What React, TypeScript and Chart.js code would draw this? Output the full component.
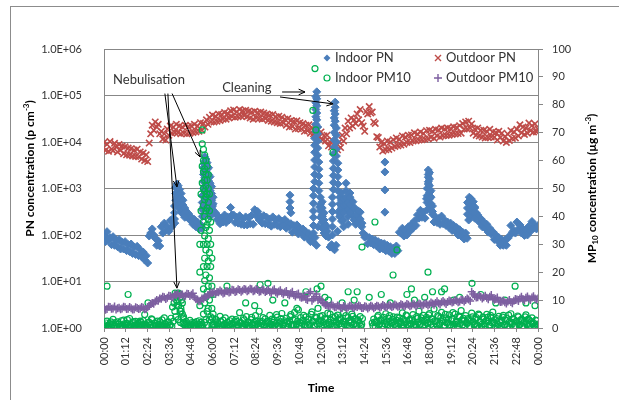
import React, { useEffect, useRef } from 'react';
import { Chart, registerables } from 'chart.js';
Chart.register(...registerables);

const FONT = 'Lato, "Open Sans", "DejaVu Sans", sans-serif';
const C_BLUE = '#4A7EBB';
const C_RED = '#BE4B48';
const C_GREEN = '#00B050';
const C_PURPLE = '#7D5FA0';
const AXIS = '#878787';
const TEXT = '#333333';

// ---- ticks ----
const timeTickMinutes = [0, 72, 144, 216, 288, 360, 432, 504, 576, 648, 720, 792, 864, 936, 1008, 1080, 1152, 1224, 1296, 1368, 1440];
const timeLabels = ['00:00', '01:12', '02:24', '03:36', '04:48', '06:00', '07:12', '08:24', '09:36', '10:48', '12:00', '13:12', '14:24', '15:36', '16:48', '18:00', '19:12', '20:24', '21:36', '22:48', '00:00'];
const pnTickValues = [1, 10, 100, 1000, 10000, 100000, 1000000];
const pnTickLabels = ['1.0E+00', '1.0E+01', '1.0E+02', '1.0E+03', '1.0E+04', '1.0E+05', '1.0E+06'];

// ---- Outdoor PN (p cm-3), one value every 5 minutes from 00:00 (12 per hour) ----
const outdoorPN = [
  9800, 6600, 8900, 6300, 10200, 7000, 6500, 9400, 7900, 6100, 8800, 6700,
  8200, 5600, 7900, 5300, 7400, 5200, 7200, 5000, 6700, 4900, 7000, 4800,
  6100, 4300, 5800, 4000, 5300, 3800, 9500, 15000, 23000, 18000, 27000, 21000,
  24000, 15000, 17000, 11500, 15000, 11000, 19000, 14000, 22000, 15500, 21000, 16000,
  24000, 16000, 22000, 15000, 21000, 15500, 23000, 15000, 21500, 15500, 22000, 16000,
  24000, 16500, 22000, 17000, 26000, 18000, 25000, 21000, 30000, 24000, 34000, 27000,
  38000, 27000, 36000, 28000, 40000, 29000, 39000, 31000, 43000, 31000, 41000, 33000,
  47000, 35000, 49000, 34000, 45000, 35000, 50000, 36000, 47000, 37000, 48000, 35000,
  46000, 33000, 44000, 31000, 46000, 33000, 43000, 32000, 44000, 31000, 42000, 32000,
  40000, 29000, 38000, 28000, 39000, 27000, 35000, 26000, 36000, 25000, 34000, 25500,
  31000, 23000, 32000, 21000, 29000, 21500, 28000, 19000, 28500, 19500, 26000, 19000,
  25000, 17000, 23000, 17500, 23500, 15500, 20000, 15000, 21000, 13500, 18500, 13000,
  16500, 11000, 13500, 10500, 14000, 8300, 10000, 7800, 10500, 6600, 8200, 6800,
  10000, 7600, 14000, 10500, 20000, 15000, 28000, 20000, 33000, 22000, 30000, 25000,
  40000, 30000, 50000, 26000, 22000, 17000, 45000, 40000, 58000, 42000, 44000, 27000,
  25000, 13000, 12500, 7800, 9700, 6400, 9200, 6800, 10500, 6900, 10000, 7400,
  11200, 8000, 12200, 8300, 11500, 8600, 13500, 9000, 12800, 9800, 14000, 9700,
  14200, 10500, 15800, 10600, 14800, 11000, 16500, 11200, 15300, 11500, 17500, 11800,
  17800, 12600, 17000, 12000, 18800, 13500, 18200, 12800, 20000, 13600, 19000, 13800,
  20000, 14000, 19500, 14500, 21200, 14800, 20500, 15200, 22500, 15500, 25000, 19000,
  27000, 19000, 28000, 20000, 24500, 15500, 19000, 14000, 20000, 13500, 17800, 12800,
  17800, 12200, 17000, 12500, 18800, 12800, 16500, 12600, 16000, 11000, 17000, 12500,
  15500, 10500, 13000, 9800, 14700, 10800, 17500, 11900, 16500, 12200, 18800, 13500,
  23500, 15800, 21000, 14500, 20000, 15500, 25500, 17500, 22500, 16500, 24500, 16500,
  19000,
];

// ---- Outdoor PM10 (ug m-3), every 5 minutes ----
const outdoorPM10 = [
  7.2, 6.5, 6.8, 7.6, 7.5, 6.9, 7.0, 7.7, 6.6, 7.1, 7.3, 6.7,
  7.0, 7.6, 7.4, 6.8, 6.9, 7.5, 7.1, 6.6, 6.7, 7.4, 7.2, 6.8,
  7.0, 7.5, 7.3, 6.7, 6.8, 7.4, 8.0, 8.6, 9.0, 8.7, 9.5, 10.0,
  9.8, 10.6, 10.5, 11.2, 11.0, 10.4, 10.8, 11.6, 11.5, 10.9, 11.2, 12.0,
  11.8, 12.4, 11.4, 12.0, 12.0, 11.3, 11.6, 12.3, 12.2, 11.5, 11.9, 12.5,
  11.0, 10.4, 10.2, 9.6, 9.8, 10.6, 10.5, 11.2, 11.0, 11.8, 12.0, 12.6,
  12.5, 13.0, 12.2, 12.9, 12.8, 13.4, 13.0, 12.4, 12.6, 13.3, 13.2, 12.7,
  13.0, 13.7, 13.5, 12.9, 13.2, 13.9, 13.6, 13.0, 13.4, 14.0, 13.8, 13.2,
  13.5, 14.1, 13.9, 13.2, 13.4, 14.0, 13.6, 13.0, 13.2, 13.8, 13.5, 12.9,
  13.3, 13.8, 13.0, 12.5, 13.4, 13.9, 12.8, 12.3, 13.1, 13.5, 12.6, 12.1,
  12.8, 13.3, 12.2, 11.7, 12.5, 13.0, 11.8, 11.3, 12.0, 12.4, 11.2, 10.8,
  11.0, 11.6, 10.4, 10.0, 12.5, 13.0, 9.8, 10.5, 11.2, 12.2, 10.0, 10.6,
  10.0, 9.2, 8.8, 8.2, 8.2, 7.7, 7.8, 8.4, 8.0, 7.4, 7.5, 8.1,
  7.8, 7.2, 7.2, 7.9, 7.6, 7.0, 7.4, 8.0, 7.9, 7.3, 7.3, 7.8,
  7.5, 8.1, 7.8, 7.2, 7.2, 7.8, 7.6, 7.0, 7.4, 8.0, 7.7, 7.1,
  7.5, 8.0, 7.8, 7.3, 7.6, 8.2, 7.9, 7.4, 7.7, 8.2, 8.0, 7.5,
  7.8, 8.4, 8.1, 7.6, 7.9, 8.5, 8.2, 7.7, 8.0, 8.6, 8.3, 7.8,
  8.1, 8.7, 8.4, 7.9, 8.2, 8.8, 8.5, 8.0, 8.3, 8.9, 8.6, 8.1,
  8.5, 9.1, 8.8, 8.3, 9.0, 9.6, 8.9, 8.4, 9.2, 9.7, 9.1, 8.6,
  9.3, 9.9, 9.6, 9.1, 9.4, 10.0, 9.8, 9.2, 9.5, 10.1, 10.0, 9.5,
  10.0, 10.6, 10.2, 9.7, 13.0, 12.2, 11.5, 10.9, 11.0, 11.7, 11.2, 10.6,
  11.0, 11.6, 10.8, 10.3, 11.2, 11.8, 10.6, 10.1, 10.4, 10.9, 9.8, 9.3,
  9.4, 9.9, 9.2, 8.8, 9.5, 10.0, 9.3, 8.9, 9.8, 10.4, 10.2, 9.7,
  10.6, 11.2, 10.4, 9.9, 10.8, 11.3, 10.5, 10.0, 10.9, 11.4, 10.6, 10.1,
  10.6,
];

// ---- Indoor PN (p cm-3), background every 5 minutes ----
const indoorPN = [
  100, 72, 118, 80, 88, 62, 92, 60, 78, 56, 80, 50,
  70, 50, 72, 46, 62, 44, 64, 40, 55, 38, 57, 36,
  48, 34, 43, 29, 36, 25, 95, 110, 135, 100, 85, 60,
  75, 58, 150, 110, 180, 125, 150, 120, 205, 150, 230, 180,
  1100, 800, 650, 520, 440, 340, 340, 250, 290, 210, 240, 170,
  215, 150, 190, 135, 170, 140, 400, 900, 1500, 1200, 900, 600,
  420, 300, 300, 215, 250, 175, 230, 190, 270, 185, 245, 210,
  390, 270, 270, 185, 240, 180, 260, 170, 220, 165, 245, 165,
  235, 175, 265, 170, 350, 260, 320, 210, 250, 180, 260, 175,
  240, 170, 220, 155, 245, 170, 215, 160, 225, 150, 200, 160,
  215, 140, 185, 150, 175, 115, 160, 125, 165, 105, 140, 110,
  135, 90, 118, 88, 108, 72, 95, 70, 88, 60, 150, 400,
  400, 250, 180, 140, 120, 90, 55, 62, 52, 48, 60, 120,
  300, 450, 600, 380, 380, 520, 650, 420, 320, 260, 210, 170,
  260, 190, 310, 150, 110, 90, 95, 65, 88, 68, 82, 62,
  78, 58, 72, 50, 67, 51, 65, 46, 60, 45, 56, 40,
  52, 40, 58, 46, 115, 110, 140, 95, 125, 100, 150, 120,
  170, 140, 200, 160, 270, 230, 340, 240, 310, 230, 600, 1000,
  700, 400, 280, 190, 245, 185, 225, 170, 255, 175, 210, 160,
  190, 145, 180, 125, 160, 120, 145, 100, 130, 95, 115, 82,
  110, 85, 210, 300, 450, 520, 380, 300, 270, 190, 225, 150,
  190, 140, 170, 115, 140, 105, 118, 80, 100, 75, 88, 60,
  80, 60, 78, 60, 85, 95, 160, 115, 125, 110, 190, 135,
  165, 110, 135, 98, 128, 100, 155, 120, 195, 140, 160, 135,
  160,
];

// ---- Indoor PN peaks: [minute, value] ----
const nebulisationPeaksPN: [number, number][] = [
  [234, 220], [234, 300], [234, 420], [238, 560], [238, 780], [238, 1050],
  [242, 1250], [242, 1000], [242, 820], [242, 650],
  [246, 1150], [246, 900], [246, 720], [246, 560], [246, 440],
  [251, 950], [251, 760], [251, 600], [251, 470], [251, 370],
  [256, 780], [256, 620], [256, 490], [256, 390], [256, 310],
  [262, 560], [262, 440], [262, 350], [262, 280], [268, 380], [268, 300], [268, 240],
  [326, 250], [326, 350], [326, 500], [326, 700], [330, 1000], [330, 1400], [330, 2000], [330, 2800],
  [334, 3800], [334, 4800], [334, 3300], [334, 2400], [334, 1700],
  [338, 4300], [338, 3100], [338, 2200], [338, 1600], [338, 1150], [338, 820], [338, 600],
  [342, 3600], [342, 2600], [342, 1900], [342, 1350], [342, 950], [342, 680], [342, 480], [342, 340],
  [347, 2800], [347, 2000], [347, 1450], [347, 1050], [347, 750], [347, 530], [347, 380], [347, 270],
  [352, 1800], [352, 1300], [352, 900], [352, 650], [352, 470], [352, 340], [352, 250],
  [357, 1100], [357, 780], [357, 560], [357, 400], [357, 290], [362, 650], [362, 470], [362, 340],
];
const cleaningPeaksPN: [number, number][] = [
  [695, 110], [695, 160], [695, 240], [695, 330], [695, 480], [695, 700], [695, 1000],
  [699, 1400], [699, 2000], [699, 2900], [699, 4100], [699, 6000], [699, 8500], [699, 12000],
  [703, 17000], [703, 24000], [703, 35000], [703, 50000], [703, 70000], [703, 95000],
  [706, 120000], [706, 85000], [706, 60000], [706, 42000], [706, 30000],
  [709, 21000], [709, 15000], [709, 10500], [709, 7400], [709, 5200],
  [713, 3700], [713, 2600], [713, 1850], [713, 1300], [713, 900],
  [718, 650], [718, 460], [718, 330], [718, 240],
  [724, 520], [724, 380], [724, 270], [724, 190], [724, 140],
  [730, 300], [730, 210], [730, 150], [730, 110], [737, 160], [737, 120], [737, 95],
  [758, 100], [758, 150], [758, 220], [758, 320], [758, 460], [758, 650],
  [761, 950], [761, 1350], [761, 1900], [761, 2700], [761, 3900], [761, 5500],
  [764, 7800], [764, 11000], [764, 16000], [764, 23000], [764, 33000], [764, 47000],
  [767, 72000], [767, 56000], [767, 40000], [767, 28000],
  [771, 20000], [771, 14000], [771, 10000], [771, 7000], [771, 5000],
  [776, 3500], [776, 2500], [776, 1800], [776, 1250], [776, 900],
  [782, 650], [782, 470], [782, 340], [782, 250],
  [788, 800], [788, 560], [788, 400], [788, 290], [788, 200],
  [795, 600], [795, 430], [795, 300], [795, 210], [795, 150],
  [803, 1300], [803, 900], [803, 640], [803, 450],
  [810, 500], [810, 350], [810, 250], [810, 170],
  [816, 800], [816, 650], [816, 450], [816, 300],
  [826, 520], [832, 380], [838, 280], [844, 330], [850, 220], [856, 180],
];
const otherPeaksPN: [number, number][] = [
  [617, 720], [617, 520], [617, 380], [620, 300],
  [932, 3700], [932, 2270], [932, 930], [932, 310],
  [1072, 350], [1072, 500], [1072, 700], [1072, 1000],
  [1076, 1400], [1076, 2000], [1076, 2500], [1076, 1750], [1076, 1250],
  [1080, 2200], [1080, 1600], [1080, 1150], [1080, 820], [1080, 600], [1080, 430],
  [1085, 900], [1085, 650], [1085, 470], [1085, 340], [1090, 420], [1090, 320],
  [1206, 280], [1206, 380], [1206, 500], [1212, 650], [1212, 480], [1212, 360],
  [1218, 600], [1218, 450], [1218, 340], [1218, 260], [1224, 520], [1224, 400], [1224, 300],
  [1230, 400], [1230, 300], [1230, 230],
];

// ---- Indoor PM10 (ug m-3), background every 2.5 minutes (24 per hour, null = no data) ----
const indoorPM10 = [
  1.2, 0.5, 0.4, 1.8, 2.5, 0.9, 0.8, 0.3, 1.6, 2.2, 0.3, 1.1, 3.1, 0.6, 1.0, 1.9, 0.6, 0.2, 2.2, 1.4, 1.4, 0.7, 0.5, 2.6,
  0.9, 0.4, 2.8, 1.5, 0.4, 0.9, 1.7, 3.0, 1.1, 0.5, 3.4, 1.2, 0.7, 0.3, 1.9, 2.3, 0.3, 1.0, 2.4, 0.6, 1.3, 1.8, 0.8, 0.4,
  1.5, 2.1, 0.5, 1.0, 2.6, 0.3, 4.8, 1.4, 1.0, 0.6, 0.4, 2.0, 2.0, 0.8, 1.2, 3.3, 3.0, 0.5, 0.6, 1.7, 1.8, 0.9, 0.9, 2.5,
  0.4, 1.3, 2.3, 0.7, 1.1, 2.9, 0.7, 0.4, 3.6, 1.2, 1.5, 0.6, 0.5, 2.2, 2.1, 1.0, 1.0, 3.5, 0.6, 7.5, 2.4, 9.0, 6.0, 11.5,
  11.0, 8.0, 9.5, 12.5, 12.0, 6.0, 7.0, 10.0, 5.0, 3.5, 2.0, 1.2, 0.8, 2.4, 1.6, 0.5, 0.4, 1.1, 2.7, 0.7, 1.2, 1.9, 0.6, 0.3,
  1.9, 1.0, 0.5, 2.3, 1.4, 0.6, 2.6, 1.3, 0.7, 2.0, 1.1, 0.4, null, null, null, null, null, null, null, null, null, null, null, null,
  3.5, 1.4, 1.0, 0.4, 2.2, 3.0, 0.6, 1.8, 1.5, 0.8, 4.2, 2.4, 0.9, 0.5, 2.8, 1.2, 1.3, 3.6, 0.5, 1.0, 2.0, 0.7, 1.1, 2.6,
  0.7, 1.5, 3.2, 0.9, 1.6, 2.2, 0.4, 3.0, 2.4, 1.1, 1.0, 0.5, 5.5, 2.0, 1.8, 0.8, 0.6, 3.4, 2.9, 1.4, 1.2, 4.1, 0.8, 1.9,
  2.1, 0.9, 0.5, 3.0, 3.8, 1.1, 1.4, 2.0, 0.9, 4.4, 2.6, 1.3, 1.7, 0.7, 6.0, 2.5, 0.6, 1.6, 2.3, 3.7, 1.1, 0.5, 3.3, 1.8,
  0.8, 2.4, 1.9, 0.6, 4.5, 1.5, 1.2, 3.2, 0.5, 2.0, 2.7, 1.0, 1.6, 4.8, 3.9, 0.9, 0.7, 1.7, 2.2, 3.4, 5.2, 1.3, 1.0, 2.6,
  1.8, 0.7, 3.5, 2.2, 0.6, 1.4, 2.5, 4.1, 4.8, 0.9, 1.3, 2.8, 0.9, 5.6, 3.0, 1.2, 1.5, 2.4, 6.5, 0.8, 2.0, 3.7, 0.7, 1.6,
  2.8, 4.5, 1.2, 0.6, 4.0, 2.1, 0.8, 3.0, 3.3, 1.1, 1.7, 4.9, 5.8, 2.3, 2.4, 0.7, 1.0, 3.9, 3.6, 1.4, 7.0, 2.6, 1.5, 4.2,
  2.6, 0.9, 4.4, 2.0, 1.1, 3.5, 3.1, 1.4, 0.7, 5.3, 2.0, 1.2, 5.0, 2.8, 1.6, 0.6, 3.8, 2.4, 0.9, 4.1, 2.3, 1.0, 4.6, 3.0,
  1.4, 3.6, 3.0, 0.8, 0.8, 2.2, 5.5, 1.3, 2.1, 4.4, 1.2, 0.7, 3.7, 2.5, 0.6, 1.9, 2.8, 5.0, 4.2, 1.1, 1.5, 3.2, 3.3, 0.9,
  0.9, 2.9, 2.5, 1.6, 4.1, 0.7, 1.3, 3.4, null, null, null, null, null, null, null, null, null, null, null, null, 1.8, 0.8, 3.2, 2.1,
  0.7, 1.9, 2.2, 4.0, 4.5, 1.1, 1.5, 2.7, 3.0, 0.6, 0.9, 3.8, 2.6, 1.4, 5.1, 2.2, 1.2, 0.8, 3.5, 4.4, 0.6, 1.7, 2.0, 3.1,
  4.0, 2.3, 1.3, 0.6, 2.8, 3.9, 0.8, 1.5, 3.6, 2.4, 1.9, 0.9, 5.4, 3.2, 1.0, 1.8, 2.4, 4.6, 4.3, 1.2, 0.7, 2.7, 3.1, 1.4,
  1.6, 3.3, 4.8, 0.9, 2.2, 1.3, 0.9, 4.1, 3.4, 2.0, 6.0, 1.1, 1.4, 3.6, 2.7, 0.7, 4.5, 2.5, 1.1, 3.0, 3.8, 1.6, 2.0, 4.7,
  5.2, 2.1, 1.3, 3.4, 3.1, 0.8, 6.8, 2.6, 2.4, 1.5, 0.9, 4.4, 4.1, 1.2, 1.7, 3.7, 5.6, 2.3, 2.9, 0.7, 1.0, 4.9, 3.6, 1.8,
  2.1, 3.2, 4.7, 0.9, 1.2, 2.6, 3.3, 5.5, 0.8, 1.4, 5.0, 2.0, 2.5, 0.7, 1.5, 4.2, 3.9, 1.6, 6.2, 2.8, 1.1, 3.5, 2.8, 0.6,
  4.4, 1.9, 1.6, 3.4, 3.0, 0.8, 0.7, 2.5, 5.3, 4.0, 2.2, 1.2, 1.3, 3.1, 3.7, 0.9, 0.9, 5.0, 4.6, 2.3, 2.0, 0.6, 1.4, 3.9,
  3.2, 1.5, 0.8, 2.6, 4.9, 3.8, 2.4, 0.7, 1.1, 4.5, 3.6, 1.9, 5.7, 2.2, 1.7, 0.9, 2.9, 3.4, 0.6, 1.3, 4.2, 2.5, 1.9, 0.8,
  2.7, 3.9, 4.5, 1.2, 1.0, 2.8, 3.4, 0.6, 0.7, 4.6, 2.2, 1.6, 5.1, 2.0, 1.5, 3.3, 3.0, 0.8, 0.9, 2.4, 2.5, 4.3, 4.0, 1.1,
  1.3, 2.7, 3.1, 0.7, 0.6, 1.8, 2.4, 4.0, 4.7, 1.5, 1.2, 3.2, 2.9, 0.9, 0.8, 2.3, 3.6, 1.4, 1.8, 0.5, 0.5, 2.8, 2.6, 1.0,
  1.4,
];

// ---- Indoor PM10 single readings: [minute, value] ----
const nebulisationPM10: [number, number][] = [
  [236, 12.5], [240, 10], [244, 12], [248, 8], [252, 11], [256, 6], [260, 9], [264, 4], [238, 4], [246, 3], [254, 2], [262, 1.5],
  [318, 8], [318, 20], [318, 30], [322, 35], [322, 42], [322, 48], [326, 52], [326, 58], [326, 66], [326, 71],
  [330, 64], [330, 60], [330, 56], [330, 50], [330, 44], [330, 38], [330, 30], [330, 22], [330, 14], [330, 5],
  [334, 62], [334, 57], [334, 53], [334, 49], [334, 46], [334, 40], [334, 33], [334, 25], [334, 17], [334, 9], [334, 2],
  [338, 60], [338, 55], [338, 51], [338, 47], [338, 42], [338, 36], [338, 28], [338, 19], [338, 11], [338, 3],
  [342, 58], [342, 53], [342, 48], [342, 43], [342, 37], [342, 30], [342, 22], [342, 13], [342, 6], [342, 1],
  [346, 55], [346, 50], [346, 45], [346, 39], [346, 32], [346, 24], [346, 15], [346, 7],
  [350, 48], [350, 42], [350, 35], [350, 27], [350, 18], [350, 10], [350, 3],
  [354, 38], [354, 30], [354, 22], [354, 12], [354, 4], [358, 25], [358, 15], [358, 7], [358, 1], [362, 12], [362, 5], [362, 1],
];
const otherPM10: [number, number][] = [
  [10, 15], [80, 12], [146, 9], [120, 2.5],
  [693, 78], [700, 93], [703, 71], [760, 63], [856, 29], [899, 38], [959, 19], [972, 28], [1075, 20], [1221, 16], [1364, 15],
  [408, 15], [518, 15.5], [544, 16], [670, 13], [707, 14], [733, 11], [810, 13], [720, 15], [745, 10], [790, 9],
  [830, 10], [840, 13], [1005, 12], [1020, 14], [1030, 10], [1064, 11], [1090, 13], [1120, 13], [1130, 14], [1250, 12],
  [1430, 8], [600, 9], [640, 7], [470, 9], [500, 8], [560, 10], [880, 11], [920, 12], [950, 9], [1160, 10], [1180, 11],
  [1300, 9], [1330, 10], [1400, 9],
];

// ---- annotations (data coordinates: minute, PN value) ----
const nebulisationLabel = { t: 30, v: 2.15e5, text: 'Nebulisation' };
const cleaningLabel = { t: 392, v: 1.45e5, text: 'Cleaning' };
const nebulisationArrows: [number, number, number, number][] = [
  [202, 1.1e5, 242, 1080],
  [212, 1.1e5, 242, 7.2],
  [226, 1.1e5, 319, 4760],
];
const cleaningArrows: [number, number, number, number][] = [
  [591, 1.19e5, 667, 1.19e5],
  [584, 9.3e4, 760, 6.6e4],
];

const seq = (vals: (number | null)[], step: number) =>
  vals.flatMap((v, i) => (v == null ? [] : [{ x: i * step, y: v }]));
const pts = (arr: [number, number][]) => arr.map(([x, y]) => ({ x, y }));

function marker(ctx: CanvasRenderingContext2D, kind: string, x: number, y: number, color: string) {
  ctx.save();
  ctx.strokeStyle = color;
  ctx.fillStyle = color;
  ctx.lineWidth = 1.4;
  const r = 3.5;
  ctx.beginPath();
  if (kind === 'diamond') {
    ctx.moveTo(x, y - r); ctx.lineTo(x + r, y); ctx.lineTo(x, y + r); ctx.lineTo(x - r, y); ctx.closePath(); ctx.fill();
  } else if (kind === 'x') {
    ctx.moveTo(x - 3, y - 3); ctx.lineTo(x + 3, y + 3); ctx.moveTo(x + 3, y - 3); ctx.lineTo(x - 3, y + 3); ctx.stroke();
  } else if (kind === 'circle') {
    ctx.lineWidth = 1.2;
    ctx.arc(x, y, 3, 0, Math.PI * 2); ctx.stroke();
  } else {
    ctx.moveTo(x - 4, y); ctx.lineTo(x + 4, y); ctx.moveTo(x, y - 4); ctx.lineTo(x, y + 4); ctx.stroke();
  }
  ctx.restore();
}

function arrow(ctx: CanvasRenderingContext2D, x1: number, y1: number, x2: number, y2: number) {
  const a = Math.atan2(y2 - y1, x2 - x1);
  const L = 7, w = 0.42;
  ctx.beginPath();
  ctx.moveTo(x1, y1);
  ctx.lineTo(x2, y2);
  ctx.moveTo(x2 - L * Math.cos(a - w), y2 - L * Math.sin(a - w));
  ctx.lineTo(x2, y2);
  ctx.lineTo(x2 - L * Math.cos(a + w), y2 - L * Math.sin(a + w));
  ctx.stroke();
}

type Part = { t: string; k?: 'sup' | 'sub' };
function rich(ctx: CanvasRenderingContext2D, parts: Part[], cx: number, cy: number, rot: number) {
  const big = 'bold 12px ' + FONT;
  const small = 'bold 8px ' + FONT;
  const widths = parts.map((p) => { ctx.font = p.k ? small : big; return ctx.measureText(p.t).width; });
  const total = widths.reduce((a, b) => a + b, 0);
  ctx.save();
  ctx.translate(cx, cy);
  ctx.rotate(rot);
  ctx.fillStyle = '#000';
  ctx.textBaseline = 'middle';
  ctx.textAlign = 'left';
  let x = -total / 2;
  parts.forEach((p, i) => {
    ctx.font = p.k ? small : big;
    const dy = p.k === 'sup' ? -4 : p.k === 'sub' ? 3 : 0;
    ctx.fillText(p.t, x, dy);
    x += widths[i];
  });
  ctx.restore();
}

const decor = {
  id: 'decor',
  afterDraw(chart: any) {
    const { ctx, chartArea: ca, scales } = chart;
    const xs = scales.x, ys = scales.y;
    ctx.save();
    const legend = [
      { kind: 'diamond', color: C_BLUE, text: 'Indoor PN', col: 0, row: 0 },
      { kind: 'x', color: C_RED, text: 'Outdoor PN', col: 1, row: 0 },
      { kind: 'circle', color: C_GREEN, text: 'Indoor PM10', col: 0, row: 1 },
      { kind: 'plus', color: C_PURPLE, text: 'Outdoor PM10', col: 1, row: 1 },
    ];
    ctx.font = '13px ' + FONT;
    ctx.textBaseline = 'middle';
    ctx.textAlign = 'left';
    legend.forEach((l) => {
      const mx = ca.left + 223 + l.col * 111;
      const my = ca.top + 9 + l.row * 20;
      marker(ctx, l.kind, mx, my, l.color);
      ctx.fillStyle = TEXT;
      ctx.fillText(l.text, mx + 8, my);
    });
    ctx.fillStyle = TEXT;
    ctx.font = '13px ' + FONT;
    ctx.fillText(nebulisationLabel.text, xs.getPixelForValue(nebulisationLabel.t), ys.getPixelForValue(nebulisationLabel.v));
    ctx.fillText(cleaningLabel.text, xs.getPixelForValue(cleaningLabel.t), ys.getPixelForValue(cleaningLabel.v));
    ctx.strokeStyle = '#000';
    ctx.lineWidth = 1;
    [...nebulisationArrows, ...cleaningArrows].forEach(([t1, v1, t2, v2]) => {
      arrow(ctx, xs.getPixelForValue(t1), ys.getPixelForValue(v1), xs.getPixelForValue(t2), ys.getPixelForValue(v2));
    });
    rich(ctx, [{ t: 'PN concentration (p cm' }, { t: '-3', k: 'sup' }, { t: ')' }], 30, (ca.top + ca.bottom) / 2 - 20, -Math.PI / 2);
    rich(ctx, [{ t: 'MP' }, { t: '10', k: 'sub' }, { t: ' concentration (\u00B5g m' }, { t: '-3', k: 'sup' }, { t: ')' }], 592, (ca.top + ca.bottom) / 2, -Math.PI / 2);
    rich(ctx, [{ t: 'Time' }], (ca.left + ca.right) / 2, 388, 0);
    ctx.restore();
  },
};

export default function App() {
  const ref = useRef<HTMLCanvasElement>(null);
  useEffect(() => {
    if (!ref.current) return;
    const common = { showLine: false, pointHoverRadius: 0 };
    const chart = new Chart(ref.current, {
      type: 'scatter',
      data: {
        datasets: [
          {
            ...common, label: 'Outdoor PM10', yAxisID: 'y1', data: seq(outdoorPM10, 5),
            pointStyle: 'cross', pointRadius: 4, pointBorderWidth: 1.5,
            borderColor: C_PURPLE, backgroundColor: C_PURPLE,
          },
          {
            ...common, label: 'Indoor PM10', yAxisID: 'y1',
            data: [...seq(indoorPM10, 2.5), ...pts(nebulisationPM10), ...pts(otherPM10)],
            pointStyle: 'circle', pointRadius: 3, pointBorderWidth: 1.2,
            borderColor: C_GREEN, backgroundColor: 'rgba(0,0,0,0)',
          },
          {
            ...common, label: 'Indoor PN', yAxisID: 'y',
            data: [...seq(indoorPN, 5), ...pts(nebulisationPeaksPN), ...pts(cleaningPeaksPN), ...pts(otherPeaksPN)],
            pointStyle: 'rectRot', pointRadius: 4, pointBorderWidth: 1,
            borderColor: C_BLUE, backgroundColor: C_BLUE,
          },
          {
            ...common, label: 'Outdoor PN', yAxisID: 'y', data: seq(outdoorPN, 5),
            pointStyle: 'crossRot', pointRadius: 4.5, pointBorderWidth: 1.6,
            borderColor: C_RED, backgroundColor: C_RED,
          },
        ],
      },
      options: {
        animation: false,
        responsive: false,
        devicePixelRatio: 1,
        events: [],
        layout: { padding: { top: 49, left: 0, right: 0, bottom: 0 } },
        plugins: { legend: { display: false }, tooltip: { enabled: false } },
        scales: {
          x: {
            type: 'linear', min: 0, max: 1440,
            afterBuildTicks: (s: any) => { s.ticks = timeTickMinutes.map((v) => ({ value: v })); },
            afterFit: (s: any) => { s.height = 72; },
            ticks: {
              autoSkip: false, minRotation: 90, maxRotation: 90, padding: 5,
              color: TEXT, font: { family: FONT, size: 11 },
              callback: (_v: any, i: number) => timeLabels[i],
            },
            grid: { drawOnChartArea: false, drawTicks: true, tickLength: 4, color: AXIS },
            border: { display: true, color: AXIS },
          },
          y: {
            type: 'logarithmic', position: 'left', min: 1, max: 1000000,
            afterBuildTicks: (s: any) => { s.ticks = pnTickValues.map((v) => ({ value: v })); },
            afterFit: (s: any) => { s.width = 104; },
            ticks: {
              padding: 22, color: TEXT, font: { family: FONT, size: 11 },
              callback: (_v: any, i: number) => pnTickLabels[i],
            },
            grid: { color: AXIS, drawTicks: false },
            border: { display: true, color: AXIS },
          },
          y1: {
            type: 'linear', position: 'right', min: 0, max: 100,
            afterFit: (s: any) => { s.width = 81; },
            ticks: { stepSize: 10, padding: 9, color: TEXT, font: { family: FONT, size: 11 } },
            grid: { drawOnChartArea: false, drawTicks: true, tickLength: 5, color: AXIS },
            border: { display: true, color: AXIS },
          },
        },
      },
      plugins: [decor],
    } as any);
    return () => chart.destroy();
  }, []);
  return (
    <div style={{ position: 'fixed', left: 0, top: 0, width: 619, height: 400, background: '#fff', overflow: 'hidden' }}>
      <div style={{ position: 'absolute', left: 10, top: 6, width: 700, height: 500, border: '1px solid #8c8c8c' }} />
      <canvas ref={ref} width={619} height={400} style={{ position: 'absolute', left: 0, top: 0, display: 'block' }} />
    </div>
  );
}
